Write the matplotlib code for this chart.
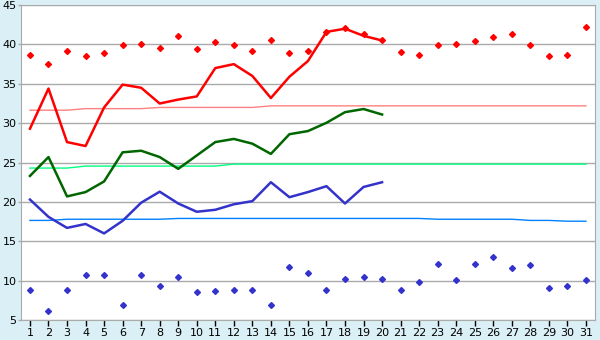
import matplotlib
matplotlib.use("Agg")
import matplotlib.pyplot as plt

days = list(range(1, 32))
obs_days = list(range(1, 21))

record_max = [38.6, 37.5, 39.2, 38.5, 38.9, 39.9, 40.0, 39.5, 41.1, 39.4,
              40.3, 39.9, 39.2, 40.6, 38.9, 39.2, 41.6, 42.1, 41.3, 40.6,
              39.0, 38.6, 39.9, 40.1, 40.5, 41.0, 41.3, 39.9, 38.5, 38.7, 42.2]
record_min = [8.76, 6.1, 8.76, 10.7, 10.7, 6.87, 10.7, 9.28, 10.42, 8.5,
              8.64, 8.76, 8.76, 6.87, 11.7, 10.93, 8.76, 10.17, 10.42, 10.17,
              8.76, 9.79, 12.07, 10.04, 12.07, 12.96, 11.56, 11.94, 9.02, 9.28, 10.04]

tmax = [29.3, 34.4, 27.6, 27.1, 32.0, 34.9, 34.5, 32.5, 33.0, 33.4,
        37.0, 37.5, 36.0, 33.2, 35.9, 37.9, 41.6, 42.0, 41.1, 40.5]
tmean = [23.3, 25.7, 20.7, 21.25, 22.6, 26.3, 26.5, 25.7, 24.2, 25.9,
         27.6, 28.0, 27.4, 26.1, 28.6, 29.0, 30.05, 31.4, 31.8, 31.1]
tmin = [20.3, 18.1, 16.7, 17.2, 16.0, 17.6, 19.9, 21.3, 19.8, 18.75,
        19.0, 19.7, 20.1, 22.5, 20.6, 21.25, 22.0, 19.8, 21.9, 22.5]

norm_max = [31.65, 31.65, 31.65, 31.85, 31.85, 31.85, 31.85, 32.0, 32.0, 32.0,
            32.0, 32.0, 32.0, 32.2, 32.2, 32.2, 32.2, 32.2, 32.2, 32.2,
            32.2, 32.2, 32.2, 32.2, 32.2, 32.2, 32.2, 32.2, 32.2, 32.2, 32.2]
norm_mean = [24.3, 24.3, 24.3, 24.55, 24.55, 24.55, 24.55, 24.55, 24.55, 24.55,
             24.55, 24.8, 24.8, 24.8, 24.8, 24.8, 24.8, 24.8, 24.8, 24.8,
             24.8, 24.8, 24.8, 24.8, 24.8, 24.8, 24.8, 24.8, 24.8, 24.8, 24.8]
norm_min = [17.65, 17.65, 17.8, 17.8, 17.8, 17.8, 17.8, 17.8, 17.9, 17.9,
            17.9, 17.9, 17.9, 17.9, 17.9, 17.9, 17.9, 17.9, 17.9, 17.9,
            17.9, 17.9, 17.8, 17.8, 17.8, 17.8, 17.8, 17.65, 17.65, 17.55, 17.55]

yticks = [5, 10, 15, 20, 25, 30, 35, 40, 45]

fig = plt.figure(figsize=(6, 3.4), dpi=100, facecolor="#DAEFF6")
ax = fig.add_axes([0.0345, 0.0588, 0.9575, 0.9262])
ax.set_facecolor("white")

for y in yticks:
    ax.axhline(y, color="#AAAAAA", lw=1.0, zorder=1)

ax.plot(days, norm_max, color="#FF8080", lw=1.0, zorder=2)
ax.plot(days, norm_mean, color="#00FF80", lw=1.0, zorder=2)
ax.plot(days, norm_min, color="#0080FF", lw=1.0, zorder=2)

ax.plot(obs_days, tmax, color="#FF0000", lw=1.8, zorder=3)
ax.plot(obs_days, tmean, color="#006600", lw=1.8, zorder=3)
ax.plot(obs_days, tmin, color="#3333CC", lw=1.8, zorder=3)

ax.plot(days, record_max, linestyle="none", marker="D", ms=3.0, color="#FF0000", zorder=4)
ax.plot(days, record_min, linestyle="none", marker="D", ms=3.0, color="#3333CC", zorder=4)

ax.set_xlim(0.5, 31.5)
ax.set_ylim(5, 45)
ax.set_xticks(days)
ax.set_xticklabels([str(d) for d in days])
ax.set_yticks(yticks)
ax.tick_params(axis="x", labelsize=8, labelcolor="black", color="black",
               length=4, width=1, direction="out", pad=2)
ax.tick_params(axis="y", labelsize=8, labelcolor="black", color="#AAAAAA",
               length=2.5, width=1, direction="out", pad=0.5)

for side in ["top", "right", "left", "bottom"]:
    ax.spines[side].set_color("#AAAAAA")

fig.savefig("out.png", dpi=100, facecolor=fig.get_facecolor())
